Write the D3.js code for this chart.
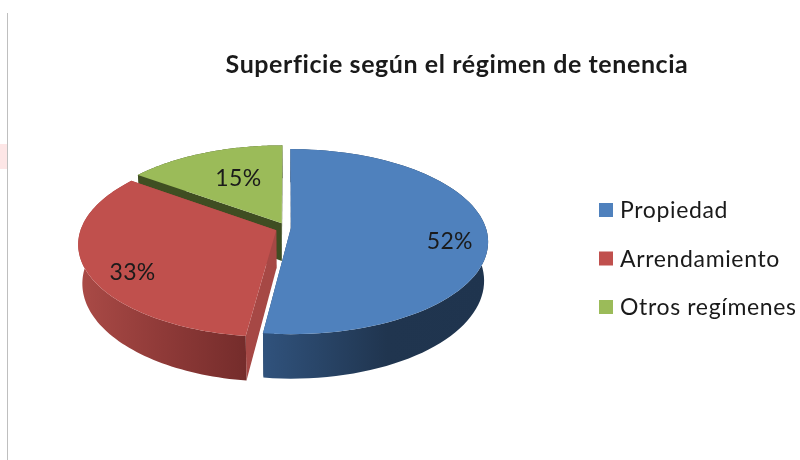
<!DOCTYPE html>
<meta charset="utf-8">
<head>
    <script src="https://d3js.org/d3.v7.min.js"></script>
    <style>
        body { margin: 0; background: #fff; }
        svg { display: block; filter: blur(0.35px); }
        text { font-family: Lato, "Open Sans", sans-serif; fill: #1a1a1a; }
    </style>
</head>
<body>
<div id="graph"></div>
<script>
    // data
    var title = "Superficie según el régimen de tenencia";
    var categories = ["Propiedad", "Arrendamiento", "Otros regímenes"];
    var values = [52, 33, 15];
    var labels = ["52%", "33%", "15%"];

    // styles, per slice
    var topColors = ["#4f81bd", "#c0504d", "#9bbb59"];
    var wallColors = [["#30527c", "#20354f", "#1f344e"], ["#ab4b47", "#8f3a38", "#742c2b"], ["#3f4f22", "#3f4f22", "#3f4f22"]];
    var faceColors = ["#263f5f", "#a64845", "#3f4d22"];
    var explode = [0.02, 0.06, 0.06];
    var labelAngle = [100, 237.6, 336];
    var labelRadius = [0.81, 0.81, 0.6];

    var width = 800, height = 460;

    // disc seen in perspective: u to the right, v to the back
    var cx = 287, cy = 228, rx = 195, ry = 90.5, persp = 0.146, depth = 38, bottomShrink = 0.98;

    function project(u, v, bottom) {
        var s = 1 / (1 + persp * v);
        var x = rx * u * s, y = -ry * v * s;
        if (bottom) {
            x = x * bottomShrink;
            y = y + depth * s;
        }
        return [cx + x, cy + y];
    }

    function pointAt(center, angle, r, bottom) {
        return project(center[0] + r * Math.sin(angle), center[1] + r * Math.cos(angle), bottom);
    }

    function arcAngles(a0, a1) {
        var n = 80;
        return d3.range(n + 1).map(function(i) { return a0 + (a1 - a0) * i / n; });
    }

    var svg = d3.select("#graph")
      .append("svg")
        .attr("width", width)
        .attr("height", height);

    // page edge of the original slide
    svg.append("rect").attr("x", 0).attr("y", 144).attr("width", 7).attr("height", 25).attr("fill", "#fde6e6");
    svg.append("line").attr("x1", 7.5).attr("x2", 7.5).attr("y1", 13).attr("y2", height)
        .attr("stroke", "#bfbfbf").attr("stroke-width", 1);

    svg.append("text")
        .attr("x", 457)
        .attr("y", 73)
        .attr("text-anchor", "middle")
        .style("font-size", "25px")
        .style("font-weight", "700")
        .style("letter-spacing", "0.58px")
        .text(title);

    var pie = d3.pie().sort(null).startAngle(0).endAngle(2 * Math.PI);
    var slices = pie(values);
    var line = d3.line();
    var defs = svg.append("defs");

    // gradient of the outer walls
    var wallX = [[264, 488], [77, 248], [137, 283]];
    slices.forEach(function(d, i) {
        var grad = defs.append("linearGradient")
            .attr("id", "wall" + i)
            .attr("gradientUnits", "userSpaceOnUse")
            .attr("x1", wallX[i][0]).attr("x2", wallX[i][1])
            .attr("y1", 0).attr("y2", 0);
        var stops = i == 0 ? [0, 0.55, 1] : [0, 0.5, 1];
        wallColors[i].forEach(function(c, j) {
            grad.append("stop").attr("offset", stops[j]).attr("stop-color", c);
        });
    });

    // back to front: green, red, blue
    var g = svg.append("g");
    [2, 1, 0].forEach(function(i) {
        var d = slices[i];
        var mid = (d.startAngle + d.endAngle) / 2;
        var center = [explode[i] * Math.sin(mid), explode[i] * Math.cos(mid)];
        var apexTop = project(center[0], center[1], false);
        var apexBottom = project(center[0], center[1], true);
        var angles = arcAngles(d.startAngle, d.endAngle);

        var topArc = angles.map(function(a) { return pointAt(center, a, 1, false); });
        var bottomArc = angles.map(function(a) { return pointAt(center, a, 1, true); });

        // cut faces
        [d.startAngle, d.endAngle].forEach(function(a) {
            g.append("path")
                .attr("d", line([apexTop, pointAt(center, a, 1, false), pointAt(center, a, 1, true), apexBottom]) + "Z")
                .attr("fill", faceColors[i]);
        });

        // outer wall
        g.append("path")
            .attr("d", line(topArc.concat(bottomArc.slice().reverse())) + "Z")
            .attr("fill", "url(#wall" + i + ")");

        // top
        g.append("path")
            .attr("d", line([apexTop].concat(topArc)) + "Z")
            .attr("fill", topColors[i]);
    });

    // percentage labels
    slices.forEach(function(d, i) {
        var mid = (d.startAngle + d.endAngle) / 2;
        var center = [explode[i] * Math.sin(mid), explode[i] * Math.cos(mid)];
        var p = pointAt(center, labelAngle[i] * Math.PI / 180, labelRadius[i], false);
        svg.append("text")
            .attr("x", p[0])
            .attr("y", p[1])
            .attr("dy", ".35em")
            .attr("text-anchor", "middle")
            .style("font-size", "23px")
            .style("letter-spacing", "0.3px")
            .text(labels[i]);
    });

    // legend
    var legendY = d3.scalePoint().domain(categories).range([210, 307]);
    var legend = svg.selectAll(".legend")
        .data(categories)
        .enter()
        .append("g")
        .attr("class", "legend")
        .attr("transform", function(d) { return "translate(599," + legendY(d) + ")"; });
    legend.append("rect")
        .attr("x", 0).attr("y", -7)
        .attr("width", 14).attr("height", 14)
        .attr("fill", function(d, i) { return topColors[i]; });
    legend.append("text")
        .attr("x", 21)
        .attr("dy", ".35em")
        .style("font-size", "23px")
        .style("letter-spacing", "0.65px")
        .text(function(d) { return d; });
</script>
</body>
